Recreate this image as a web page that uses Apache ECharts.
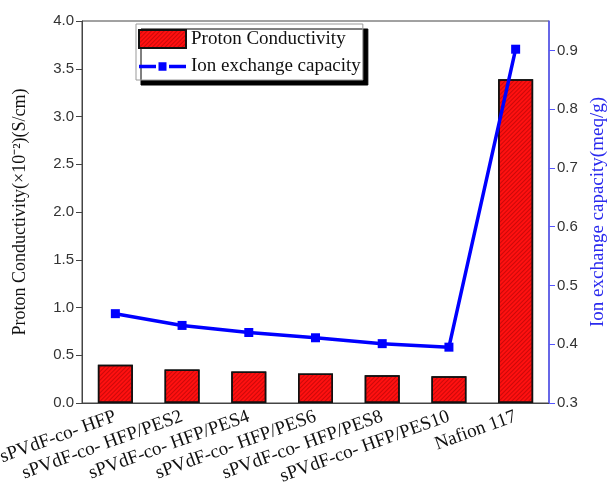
<!DOCTYPE html>
<html>
<head>
<meta charset="utf-8">
<script src="https://cdn.jsdelivr.net/npm/echarts@6/dist/echarts.min.js"></script>
<style>html,body{margin:0;padding:0;background:#fff}#c{width:613px;height:487px}</style>
</head>
<body>
<div id="c"></div>
<script>
var categories = ['sPVdF-co- HFP','sPVdF-co- HFP/PES2','sPVdF-co- HFP/PES4','sPVdF-co- HFP/PES6','sPVdF-co- HFP/PES8','sPVdF-co- HFP/PES10','Nafion 117'];
var conductivity = [0.40, 0.35, 0.33, 0.31, 0.29, 0.28, 3.39];
var iec = [0.452, 0.432, 0.420, 0.411, 0.401, 0.395, 0.902];
var leftTicks = [0, 0.5, 1.0, 1.5, 2.0, 2.5, 3.0, 3.5, 4.0];
var rightTicks = [0.3, 0.4, 0.5, 0.6, 0.7, 0.8, 0.9];

var chart = echarts.init(document.getElementById('c'));
var serif = '"Liberation Serif","Times New Roman",serif';
var sans = '"Liberation Sans",Arial,sans-serif';
var lineIcon = 'path://M0,7.5 h17 v3.5 h-17 z M19.5,5 h8 v8.5 h-8 z M30,7.5 h17 v3.5 h-17 z';
chart.setOption({
  animation: false,
  grid: {left: 82, right: 64, top: 21, bottom: 84, outerBoundsMode: 'none', containLabel: false,
         show: true, borderColor: '#444', borderWidth: 1, backgroundColor: 'transparent'},
  legend: {
    left: 136, top: 24, orient: 'vertical', itemGap: 8,
    itemWidth: 47, itemHeight: 18,
    padding: [5, 2, 4, 2],
    backgroundColor: '#fff', borderColor: '#999', borderWidth: 1,
    shadowColor: '#000', shadowBlur: 0, shadowOffsetX: 5, shadowOffsetY: 5,
    textStyle: {fontFamily: serif, fontSize: 19, color: '#111'},
    data: [
      {name: 'Proton Conductivity', icon: 'rect'},
      {name: 'Ion exchange capacity', icon: lineIcon}
    ]
  },
  xAxis: {
    type: 'category', data: categories,
    axisLine: {lineStyle: {color: '#444', width: 1}},
    axisTick: {alignWithLabel: true, length: 6, lineStyle: {color: '#444'}},
    axisLabel: {rotate: 20, interval: 0, fontFamily: serif, fontSize: 19, color: '#111', margin: 13}
  },
  yAxis: [{
    type: 'value', min: 0, max: 4, interval: 0.5,
    name: 'Proton Conductivity(×10⁻²)(S/cm)', nameLocation: 'middle', nameGap: 53,
    nameTextStyle: {fontFamily: serif, fontSize: 18, color: '#111'},
    axisLine: {show: true, lineStyle: {color: '#444'}},
    axisTick: {show: true, length: 6, lineStyle: {color: '#444'}},
    axisLabel: {fontFamily: sans, fontSize: 15, color: '#333', formatter: function(v){return v.toFixed(1);}},
    splitLine: {show: false}
  }, {
    type: 'value', min: 0.3, max: 0.95, position: 'right',
    name: 'Ion exchange capacity(meq/g)', nameLocation: 'middle', nameGap: 40,
    nameTextStyle: {fontFamily: serif, fontSize: 19, color: '#2a2aee'},
    axisLine: {show: true, lineStyle: {color: '#5555ff', width: 1.5}},
    axisTick: {show: true, length: 6, lineStyle: {color: '#5555ff'}, customValues: rightTicks},
    axisLabel: {fontFamily: sans, fontSize: 15, color: '#333', customValues: rightTicks, formatter: function(v){return v.toFixed(1);}},
    splitLine: {show: false}
  }],
  series: [{
    name: 'Proton Conductivity', type: 'bar', data: conductivity, barWidth: 35,
    itemStyle: {
      color: '#ff1010', borderColor: '#111', borderWidth: 1.5,
      decal: {symbol: 'rect', dashArrayX: [1, 0], dashArrayY: [1, 2], rotation: -Math.PI / 4, color: 'rgba(140,0,0,0.45)', symbolSize: 1}
    }
  }, {
    name: 'Ion exchange capacity', type: 'line', yAxisIndex: 1, data: iec,
    symbol: 'rect', symbolSize: 9,
    lineStyle: {color: '#0000ff', width: 3.5},
    itemStyle: {color: '#0000ff'}
  }]
});
</script>
</body>
</html>
